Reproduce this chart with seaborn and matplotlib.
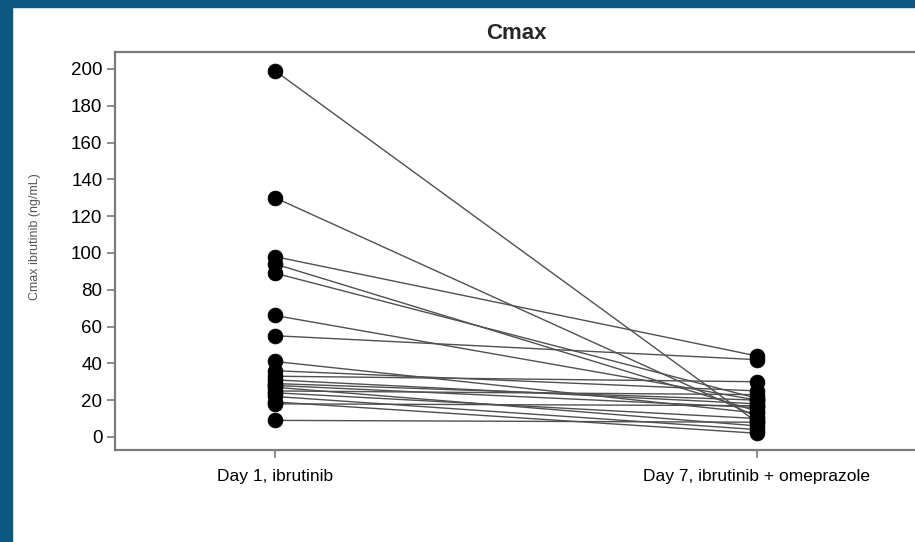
import matplotlib
matplotlib.use("Agg")
import matplotlib.pyplot as plt
import matplotlib.patches as mpatches
import pandas as pd
import seaborn as sns

# Per-subject Cmax of ibrutinib (ng/mL)
visits = ["Day 1, ibrutinib", "Day 7, ibrutinib + omeprazole"]
day1_cmax = [199, 130, 98, 94, 89, 66, 55, 41, 36, 33, 31, 29, 28, 27, 25, 24, 22, 19, 18, 9]
day7_cmax = [8, 11, 44, 14, 21, 20, 42, 13, 25, 30, 18, 20, 16, 6, 23, 10, 4, 2, 17, 8]
y_ticks = [0, 20, 40, 60, 80, 100, 120, 140, 160, 180, 200]

subjects = list(range(1, len(day1_cmax) + 1))
df = pd.DataFrame({
    "subject": subjects * 2,
    "visit": [0] * len(day1_cmax) + [1] * len(day7_cmax),
    "cmax": day1_cmax + day7_cmax,
})

sns.set_theme(style="white")
plt.rcParams["font.family"] = ["Liberation Sans", "DejaVu Sans"]

W, H = 915, 542
fig = plt.figure(figsize=(W / 100, H / 100), dpi=100)
fig.patch.set_facecolor("white")

# dark blue slide frame
frame = "#0C5A82"
fig.patches.append(mpatches.Rectangle((0, 1 - 7 / H), 1, 7 / H, transform=fig.transFigure,
                                      color=frame, zorder=0))
fig.patches.append(mpatches.Rectangle((0, 0), 12 / W, 1, transform=fig.transFigure,
                                      color=frame, zorder=0))

left, right, top, bottom = 115, 917, 52, 450
ax = fig.add_axes([left / W, 1 - bottom / H, (right - left) / W, (bottom - top) / H])
ax.set_facecolor("white")

sns.lineplot(data=df, x="visit", y="cmax", units="subject", estimator=None,
             color="#505050", linewidth=1.0, ax=ax, legend=False, zorder=2)
sns.scatterplot(data=df, x="visit", y="cmax", color="black", s=115,
                edgecolor="black", linewidth=0.5, ax=ax, legend=False, zorder=3)

ax.set_xlim(-0.332, 1.332)
ax.set_ylim(-7.1, 209.2)
ax.set_xticks([0, 1])
ax.set_xticklabels(visits)
ax.set_yticks(y_ticks)
ax.set_xlabel("")
ax.set_ylabel("Cmax ibrutinib (ng/mL)", fontsize=9, color="#555555")
ax.yaxis.set_label_coords((41 - left) / (right - left), (bottom - 237) / (bottom - top))
ax.set_title("Cmax", fontsize=16, fontweight="bold", pad=9)

for side in ["left", "bottom", "top", "right"]:
    ax.spines[side].set_visible(True)
    ax.spines[side].set_color("#7a7a7a")
    ax.spines[side].set_linewidth(1.6)

ax.tick_params(axis="both", which="major", direction="out", length=6, width=1.2,
               color="#7a7a7a", labelcolor="black")
ax.tick_params(axis="y", left=True, pad=3, labelsize=13.5)
ax.tick_params(axis="x", bottom=True, pad=8, labelsize=12.5)
ax.grid(False)

fig.savefig("out.png", dpi=100)
